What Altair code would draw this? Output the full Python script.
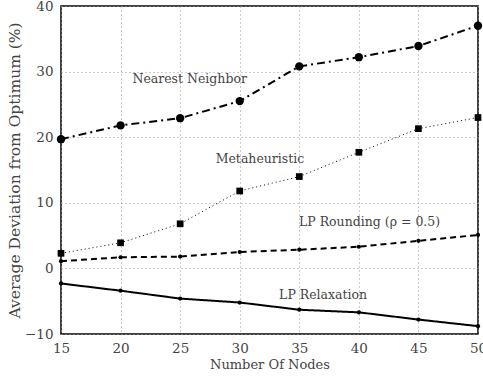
import altair as alt
import pandas as pd

nodes = [15, 20, 25, 30, 35, 40, 45, 50]
nearest_neighbor = [19.7, 21.8, 22.9, 25.5, 30.8, 32.2, 33.9, 37.0]
metaheuristic = [2.3, 3.9, 6.8, 11.8, 14.0, 17.7, 21.3, 23.0]
lp_rounding = [1.1, 1.7, 1.8, 2.5, 2.85, 3.3, 4.2, 5.1]
lp_relaxation = [-2.3, -3.4, -4.6, -5.2, -6.3, -6.7, -7.8, -8.8]

label_text = ["Nearest Neighbor", "Metaheuristic", "LP Rounding (\u03c1 = 0.5)", "LP Relaxation"]
label_x = [25.8, 31.7, 40.9, 37.0]
label_y = [28.9, 16.7, 7.1, -4.05]

FONT = "DejaVu Serif"

xscale = alt.Scale(domain=[15, 50], nice=False, zero=False)
yscale = alt.Scale(domain=[-10, 40], nice=False, zero=False)

xaxis = alt.Axis(values=nodes, title="Number Of Nodes", grid=True, gridDash=[1, 3],
                 gridColor="#999", domain=False, ticks=False, labelPadding=7,
                 labelFlush=False, labelFontSize=13.5, titleFontSize=13, titlePadding=4)
yaxis = alt.Axis(values=[-10, 0, 10, 20, 30, 40], title="Average Deviation from Optimum (%)",
                 grid=True, gridDash=[1, 3], gridColor="#999", domain=False, ticks=False,
                 labelFlush=False, labelPadding=8, labelFontSize=13.5, titleFontSize=15.5, titlePadding=2)


def X(field):
    return alt.X(field, type="quantitative", scale=xscale, axis=xaxis)


def Y(field):
    return alt.Y(field, type="quantitative", scale=yscale, axis=yaxis)


series = [
    (nearest_neighbor, [8, 4, 2, 4], 2, "circle", 70),
    (metaheuristic, [1, 3], 1, "square", 45),
    (lp_rounding, [6, 4], 2, "circle", 18),
    (lp_relaxation, [1, 0], 2, "circle", 18),
]

layers = []
for vals, dash, sw, shape, size in series:
    df = pd.DataFrame({"n": nodes, "v": vals})
    base = alt.Chart(df)
    line = base.mark_line(color="black", strokeDash=dash, strokeWidth=sw, clip=False).encode(x=X("n"), y=Y("v"))
    pts = base.mark_point(shape=shape, size=size, filled=True, color="black", opacity=1, clip=False).encode(
        x=X("n"), y=Y("v"))
    layers += [line, pts]

lab = pd.DataFrame({"t": label_text, "x": label_x, "y": label_y})
texts = alt.Chart(lab).mark_text(font=FONT, fontSize=12.5, color="#444", align="center", baseline="middle").encode(
    x=X("x"), y=Y("y"), text="t:N")
layers.append(texts)

chart = alt.layer(*layers).properties(
    width=417, height=328,
    autosize=alt.AutoSizeParams(type="none"),
    padding={"left": 61, "top": 6, "right": 5, "bottom": 44},
    background="white",
).configure_view(stroke="black", strokeWidth=1.5).configure_axis(
    labelFont=FONT, titleFont=FONT, labelColor="#444", titleColor="#444", titleFontWeight="normal"
)

chart.save("out.html", embed_options={"renderer": "svg", "actions": False})
